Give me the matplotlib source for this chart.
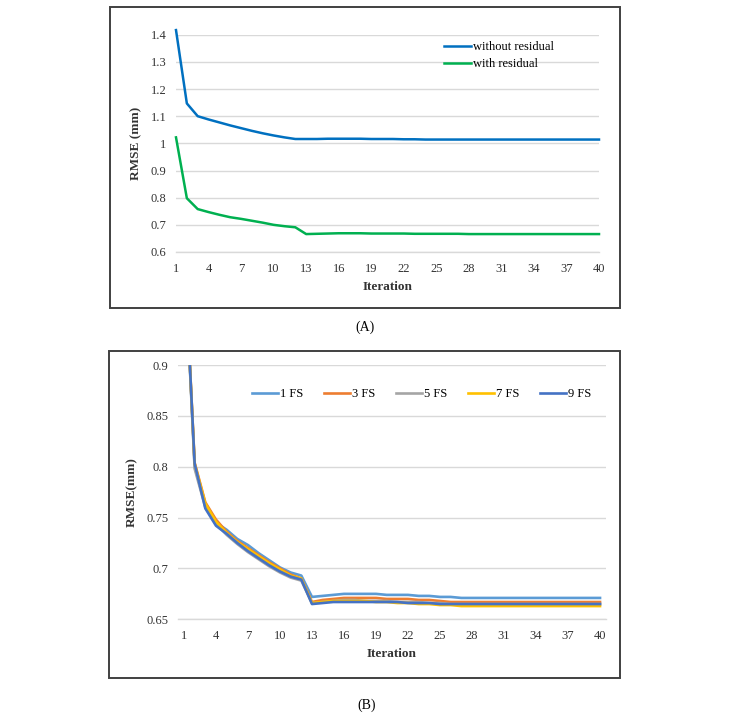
import matplotlib
matplotlib.use("Agg")
import matplotlib.pyplot as plt
from matplotlib.patches import Rectangle

plt.rcParams['font.family'] = ['Liberation Serif', 'DejaVu Serif']

# ---- data ----
iterations = list(range(1, 41))
xtick_values = list(range(1, 41, 3))

# panel (A)
without_residual = [1.417, 1.147, 1.100, 1.088, 1.077, 1.066, 1.056, 1.046, 1.037, 1.029,
                    1.022, 1.016, 1.016, 1.016, 1.017, 1.017, 1.017, 1.017, 1.016, 1.016,
                    1.016, 1.015, 1.015, 1.014, 1.014, 1.014, 1.014, 1.014, 1.014, 1.014,
                    1.014, 1.014, 1.014, 1.014, 1.014, 1.014, 1.014, 1.014, 1.014, 1.014]
with_residual = [1.022, 0.798, 0.758, 0.747, 0.737, 0.728, 0.722, 0.715, 0.708, 0.700,
                 0.695, 0.691, 0.666, 0.667, 0.668, 0.669, 0.669, 0.669, 0.668, 0.668,
                 0.668, 0.668, 0.667, 0.667, 0.667, 0.667, 0.667, 0.666, 0.666, 0.666,
                 0.666, 0.666, 0.666, 0.666, 0.666, 0.666, 0.666, 0.666, 0.666, 0.666]

# panel (B)
fs_labels = ['1 FS', '3 FS', '5 FS', '7 FS', '9 FS']
fs1 = [1.020, 0.800, 0.762, 0.745, 0.738, 0.729, 0.723, 0.715, 0.708, 0.701,
       0.696, 0.693, 0.672, 0.673, 0.674, 0.675, 0.675, 0.675, 0.675, 0.674,
       0.674, 0.674, 0.673, 0.673, 0.672, 0.672, 0.671, 0.671, 0.671, 0.671,
       0.671, 0.671, 0.671, 0.671, 0.671, 0.671, 0.671, 0.671, 0.671, 0.671]
fs3 = [1.020, 0.804, 0.765, 0.748, 0.736, 0.727, 0.720, 0.713, 0.706, 0.700,
       0.694, 0.690, 0.667, 0.669, 0.670, 0.671, 0.671, 0.671, 0.671, 0.670,
       0.670, 0.670, 0.669, 0.669, 0.668, 0.667, 0.667, 0.667, 0.667, 0.667,
       0.667, 0.667, 0.667, 0.667, 0.667, 0.667, 0.667, 0.667, 0.667, 0.667]
fs5 = [1.020, 0.798, 0.760, 0.744, 0.733, 0.724, 0.716, 0.709, 0.702, 0.696,
       0.691, 0.688, 0.666, 0.667, 0.668, 0.669, 0.669, 0.668, 0.668, 0.668,
       0.667, 0.667, 0.667, 0.666, 0.666, 0.665, 0.665, 0.665, 0.665, 0.665,
       0.665, 0.665, 0.665, 0.665, 0.665, 0.665, 0.665, 0.665, 0.665, 0.665]
fs7 = [1.020, 0.803, 0.764, 0.746, 0.735, 0.726, 0.719, 0.712, 0.705, 0.699,
       0.693, 0.690, 0.666, 0.667, 0.668, 0.668, 0.668, 0.668, 0.667, 0.667,
       0.666, 0.666, 0.665, 0.665, 0.664, 0.664, 0.663, 0.663, 0.663, 0.663,
       0.663, 0.663, 0.663, 0.663, 0.663, 0.663, 0.663, 0.663, 0.663, 0.663]
fs9 = [1.020, 0.803, 0.759, 0.742, 0.734, 0.725, 0.717, 0.710, 0.703, 0.697,
       0.692, 0.689, 0.665, 0.666, 0.667, 0.667, 0.667, 0.667, 0.667, 0.667,
       0.667, 0.666, 0.666, 0.666, 0.665, 0.665, 0.665, 0.665, 0.665, 0.665,
       0.665, 0.665, 0.665, 0.665, 0.665, 0.665, 0.665, 0.665, 0.665, 0.665]
fs_series = [fs1, fs3, fs5, fs7, fs9]
fs_colors = ['#5B9BD5', '#ED7D31', '#A5A5A5', '#FFC000', '#4472C4']

W, H = 733, 716
fig = plt.figure(figsize=(W / 100, H / 100), dpi=100)


def px_axes(left, top, right, bottom):
    # axes placed from pixel coordinates of the reference
    return fig.add_axes([left / W, 1 - bottom / H, (right - left) / W, (bottom - top) / H])


def px_box(left, top, right, bottom):
    fig.patches.append(Rectangle((left / W, 1 - bottom / H), (right - left) / W, (bottom - top) / H,
                                 transform=fig.transFigure, fill=False,
                                 edgecolor='#404040', linewidth=1.4))


def excel_style(ax, yticks, ylabel):
    for s in ['top', 'right', 'left']:
        ax.spines[s].set_visible(False)
    ax.spines['bottom'].set_color('#D9D9D9')
    ax.spines['bottom'].set_linewidth(1.0)
    ax.set_yticks(yticks)
    ax.set_xticks(xtick_values)
    ax.yaxis.grid(True, color='#D9D9D9', linewidth=1.0)
    ax.set_axisbelow(True)
    ax.tick_params(axis='both', length=0, labelsize=9, colors='#333333')
    ax.tick_params(axis='x', pad=8)
    ax.tick_params(axis='y', pad=7)
    ax.set_xlabel('Iteration', fontsize=9.5, fontweight='bold', color='#333333', labelpad=4)
    ax.set_ylabel(ylabel, fontsize=9.5, fontweight='bold', color='#333333', labelpad=6)


# ---- panel (A) ----
px_box(110, 7, 620, 308)
axA = px_axes(176, 34.7, 599, 252)
axA.plot(iterations, without_residual, color='#0070C0', lw=1.8, label='without residual', clip_on=False)
axA.plot(iterations, with_residual, color='#00B050', lw=1.8, label='with residual', clip_on=False)
axA.set_xlim(1, 40)
axA.set_ylim(0.6, 1.4)
excel_style(axA, [0.6, 0.7, 0.8, 0.9, 1.0, 1.1, 1.2, 1.3, 1.4], 'RMSE (mm)')
axA.set_yticklabels(['0.6', '0.7', '0.8', '0.9', '1', '1.1', '1.2', '1.3', '1.4'])
axA.legend(loc='upper left', bbox_to_anchor=(444 / W, 1 - 41 / H), bbox_transform=fig.transFigure,
           frameon=False, fontsize=9, handlelength=2.2, handletextpad=0.15,
           labelspacing=0.42, borderpad=0, borderaxespad=0)
fig.text(365 / W, 1 - 327 / H, '(A)', ha='center', va='center', fontsize=10)

# ---- panel (B) ----
px_box(109, 351, 620, 678)
axB = px_axes(178, 365, 606, 619.3)
for vals, lab, col in zip(fs_series, fs_labels, fs_colors):
    axB.plot(iterations, vals, color=col, lw=1.9, label=lab)
axB.set_xlim(0.44, 40.56)
axB.set_ylim(0.65, 0.9)
excel_style(axB, [0.65, 0.7, 0.75, 0.8, 0.85, 0.9], 'RMSE(mm)')
axB.set_yticklabels(['0.65', '0.7', '0.75', '0.8', '0.85', '0.9'])
axB.legend(loc='center left', bbox_to_anchor=(252 / W, 1 - 394 / H), bbox_transform=fig.transFigure,
           frameon=False, fontsize=9, ncol=5, handlelength=2.1, handletextpad=0.15,
           columnspacing=1.65, borderpad=0, borderaxespad=0)
fig.text(367 / W, 1 - 705 / H, '(B)', ha='center', va='center', fontsize=10)

fig.savefig('out.png', dpi=100)
